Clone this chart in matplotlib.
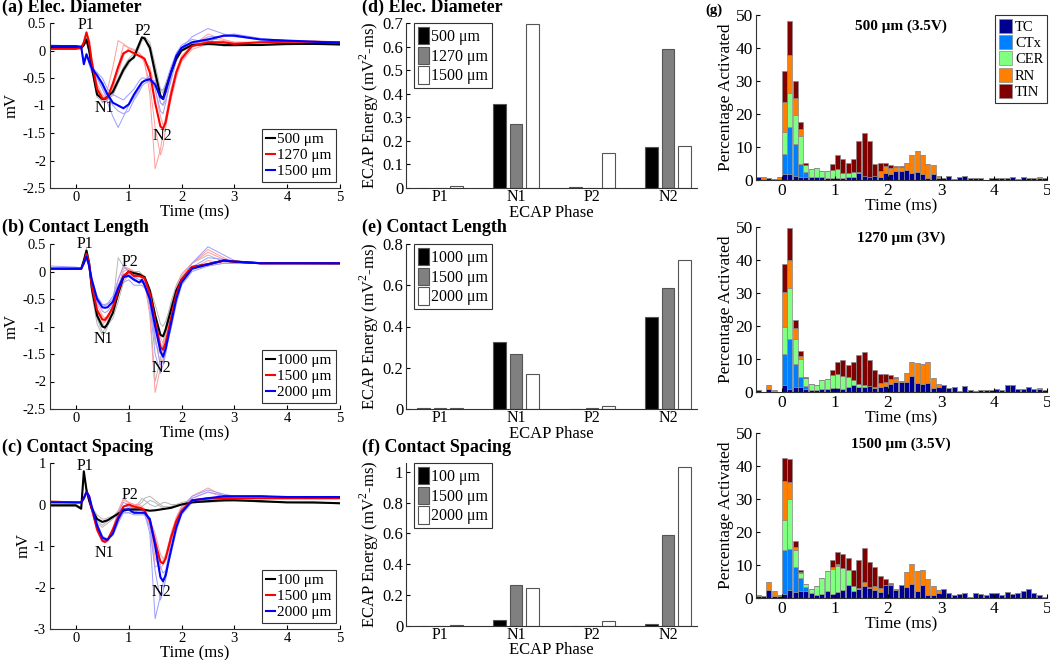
import matplotlib.pyplot as plt
import matplotlib.ticker as mticker
import numpy as np

plt.rcParams['font.family'] = ['Liberation Serif', 'DejaVu Serif']
plt.rcParams['mathtext.fontset'] = 'custom'
plt.rcParams['mathtext.rm'] = 'Liberation Serif'
plt.rcParams['xtick.direction'] = 'in'
plt.rcParams['ytick.direction'] = 'in'
plt.rcParams['xtick.major.size'] = 3
plt.rcParams['ytick.major.size'] = 3
plt.rcParams['axes.linewidth'] = 0.8
plt.rcParams['axes.edgecolor'] = '#333333'

# ---------------- ECAP traces (time in ms, voltage in mV) ----------------
T = [-0.5, 0, 0.1, 0.15, 0.2, 0.25, 0.3, 0.4, 0.5, 0.55, 0.6, 0.7, 0.8, 0.9, 1.0, 1.1, 1.2, 1.25,
     1.3, 1.4, 1.5, 1.6, 1.65, 1.7, 1.8, 1.9, 2.0, 2.2, 2.5, 2.8, 3.0, 3.5, 4.0, 4.5, 5.0]

# (a) electrode diameter
a_black = [0.05, 0.05, 0.04, 0.10, 0.20, 0.00, -0.30, -0.80, -0.88, -0.88, -0.84, -0.75, -0.55, -0.35, -0.20, -0.12, 0.12, 0.24,
           0.22, 0.05, -0.40, -0.82, -0.88, -0.70, -0.40, -0.15, 0.00, 0.10, 0.12, 0.10, 0.10, 0.10, 0.12, 0.12, 0.11]
a_red = [0.03, 0.03, 0.05, 0.15, 0.33, 0.15, -0.20, -0.70, -0.87, -0.88, -0.85, -0.60, -0.30, -0.05, 0.00, -0.05, -0.10, -0.12,
         -0.15, -0.40, -0.95, -1.38, -1.42, -1.30, -0.80, -0.40, -0.15, 0.08, 0.15, 0.15, 0.12, 0.15, 0.16, 0.16, 0.15]
a_blue = [0.08, 0.08, 0.07, -0.25, -0.07, -0.20, -0.32, -0.45, -0.60, -0.70, -0.80, -0.95, -1.00, -1.05, -0.98, -0.80, -0.65, -0.58,
          -0.55, -0.52, -0.62, -0.85, -0.88, -0.75, -0.40, -0.10, 0.05, 0.15, 0.20, 0.27, 0.27, 0.20, 0.18, 0.16, 0.14]
a_gray_thin = [
    [0.04, 0.04, 0.03, 0.12, 0.22, 0.02, -0.35, -0.85, -0.92, -0.90, -0.82, -0.70, -0.50, -0.30, -0.15, -0.05, 0.15, 0.22,
     0.20, 0.00, -0.50, -0.95, -0.98, -0.80, -0.45, -0.15, 0.02, 0.12, 0.15, 0.08, 0.08, 0.10, 0.10, 0.12, 0.10],
    [0.06, 0.06, 0.05, 0.08, 0.15, -0.02, -0.25, -0.70, -0.80, -0.85, -0.88, -0.82, -0.60, -0.40, -0.25, -0.10, 0.10, 0.20,
     0.25, 0.15, -0.25, -0.70, -0.78, -0.62, -0.35, -0.12, 0.02, 0.12, 0.18, 0.12, 0.12, 0.10, 0.14, 0.12, 0.12],
    [0.05, 0.05, 0.04, 0.10, 0.18, 0.00, -0.30, -0.75, -0.95, -0.95, -0.90, -0.80, -0.58, -0.38, -0.18, -0.15, 0.05, 0.18,
     0.20, 0.10, -0.35, -0.80, -0.85, -0.72, -0.42, -0.18, -0.02, 0.08, 0.10, 0.12, 0.10, 0.12, 0.12, 0.12, 0.13]]
a_red_thin = [
    [0.03, 0.03, 0.05, 0.15, 0.30, 0.10, -0.30, -0.80, -0.90, -0.85, -0.70, -0.30, 0.18, 0.12, 0.05, 0.02, -0.05, -0.10,
     -0.20, -0.80, -2.15, -1.80, -1.50, -1.20, -0.70, -0.35, -0.10, 0.10, 0.22, 0.18, 0.15, 0.15, 0.16, 0.16, 0.15],
    [0.03, 0.03, 0.05, 0.15, 0.30, 0.12, -0.20, -0.60, -0.80, -0.85, -0.88, -0.70, -0.30, 0.10, 0.05, 0.00, -0.05, -0.10,
     -0.25, -0.60, -1.40, -1.90, -1.75, -1.40, -0.85, -0.40, -0.12, 0.08, 0.30, 0.20, 0.15, 0.15, 0.15, 0.16, 0.15],
    [0.03, 0.03, 0.05, 0.15, 0.32, 0.15, -0.15, -0.65, -0.85, -0.90, -0.90, -0.65, -0.40, -0.10, 0.05, 0.00, -0.10, -0.15,
     -0.20, -0.30, -0.70, -1.20, -1.35, -1.30, -0.90, -0.50, -0.20, 0.02, 0.12, 0.15, 0.14, 0.15, 0.15, 0.15, 0.15]]
a_blue_thin = [
    [0.10, 0.08, 0.05, -0.20, -0.05, -0.25, -0.40, -0.50, -0.70, -0.80, -0.95, -1.20, -1.40, -1.20, -1.00, -0.85, -0.70, -0.60,
     -0.55, -0.45, -0.70, -1.10, -1.15, -0.95, -0.50, -0.15, 0.05, 0.25, 0.40, 0.30, 0.25, 0.20, 0.18, 0.16, 0.15],
    [0.06, 0.08, 0.07, -0.22, -0.10, -0.15, -0.30, -0.40, -0.50, -0.60, -0.70, -0.80, -0.85, -0.90, -0.80, -0.70, -0.55, -0.50,
     -0.50, -0.55, -0.60, -0.70, -0.72, -0.60, -0.30, -0.05, 0.10, 0.20, 0.15, 0.28, 0.30, 0.22, 0.18, 0.16, 0.14],
    [0.08, 0.08, 0.06, -0.25, -0.05, -0.20, -0.30, -0.50, -0.65, -0.75, -0.85, -1.00, -1.10, -1.15, -1.10, -0.90, -0.75, -0.65,
     -0.60, -0.55, -0.55, -0.95, -1.00, -0.90, -0.55, -0.20, 0.00, 0.10, 0.25, 0.25, 0.28, 0.20, 0.18, 0.16, 0.15]]

# (b) contact length
b_black = [0.05, 0.05, 0.05, 0.20, 0.38, 0.15, -0.30, -0.80, -1.00, -1.02, -0.95, -0.75, -0.40, -0.10, 0.00, -0.03, -0.05, -0.08,
           -0.10, -0.35, -0.80, -1.15, -1.18, -1.05, -0.70, -0.35, -0.15, 0.08, 0.13, 0.20, 0.18, 0.15, 0.15, 0.15, 0.15]
b_red = [0.05, 0.05, 0.05, 0.15, 0.32, 0.15, -0.25, -0.70, -0.87, -0.88, -0.82, -0.65, -0.35, -0.08, 0.00, -0.08, -0.08, -0.10,
         -0.12, -0.40, -0.90, -1.38, -1.42, -1.30, -0.85, -0.42, -0.15, 0.08, 0.13, 0.20, 0.18, 0.15, 0.15, 0.15, 0.15]
b_blue = [0.05, 0.05, 0.05, 0.15, 0.27, 0.10, -0.15, -0.50, -0.65, -0.66, -0.65, -0.55, -0.30, -0.10, -0.08, -0.15, -0.20, -0.15,
          -0.25, -0.50, -1.00, -1.45, -1.55, -1.40, -0.95, -0.50, -0.20, 0.05, 0.13, 0.20, 0.18, 0.15, 0.15, 0.15, 0.15]
b_gray_thin = [
    [0.05, 0.05, 0.05, 0.22, 0.42, 0.15, -0.40, -0.95, -1.15, -1.12, -1.00, -0.60, 0.25, 0.10, 0.00, -0.05, -0.05, -0.08,
     -0.15, -0.50, -1.30, -1.50, -1.35, -1.15, -0.70, -0.30, -0.10, 0.10, 0.15, 0.20, 0.18, 0.15, 0.15, 0.14, 0.13],
    [0.05, 0.05, 0.05, 0.18, 0.35, 0.12, -0.25, -0.75, -0.95, -1.00, -0.98, -0.85, -0.55, -0.20, -0.05, 0.00, 0.00, -0.05,
     -0.10, -0.30, -0.60, -0.95, -1.00, -0.90, -0.60, -0.30, -0.10, 0.05, 0.10, 0.15, 0.15, 0.15, 0.15, 0.15, 0.15],
    [0.05, 0.05, 0.05, 0.20, 0.40, 0.18, -0.30, -0.85, -1.10, -1.05, -0.90, -0.65, -0.30, 0.05, 0.05, 0.00, -0.05, -0.10,
     -0.20, -0.70, -2.00, -1.60, -1.30, -1.00, -0.55, -0.25, -0.05, 0.15, 0.30, 0.18, 0.15, 0.15, 0.15, 0.15, 0.14]]
b_red_thin = [
    [0.05, 0.05, 0.05, 0.15, 0.30, 0.12, -0.30, -0.80, -0.95, -0.92, -0.85, -0.60, -0.15, 0.10, 0.05, 0.00, -0.05, -0.05,
     -0.10, -0.45, -1.20, -1.70, -1.60, -1.40, -0.85, -0.40, -0.10, 0.15, 0.40, 0.25, 0.18, 0.15, 0.15, 0.15, 0.15],
    [0.05, 0.05, 0.05, 0.15, 0.32, 0.15, -0.20, -0.60, -0.80, -0.85, -0.80, -0.70, -0.45, -0.15, -0.05, -0.10, -0.10, -0.12,
     -0.15, -0.35, -0.75, -1.20, -1.30, -1.25, -0.90, -0.50, -0.20, 0.05, 0.20, 0.15, 0.15, 0.15, 0.15, 0.15, 0.15],
    [0.05, 0.05, 0.05, 0.15, 0.30, 0.12, -0.25, -0.70, -0.90, -0.90, -0.85, -0.65, -0.30, 0.00, 0.05, -0.05, -0.05, -0.10,
     -0.20, -0.80, -2.20, -1.75, -1.45, -1.15, -0.70, -0.30, -0.05, 0.15, 0.35, 0.22, 0.18, 0.15, 0.15, 0.15, 0.15]]
b_blue_thin = [
    [0.10, 0.08, 0.05, 0.15, 0.25, 0.08, -0.15, -0.45, -0.60, -0.60, -0.58, -0.45, -0.15, 0.10, 0.00, -0.10, -0.15, -0.15,
     -0.20, -0.60, -1.50, -1.85, -1.70, -1.50, -1.00, -0.50, -0.15, 0.15, 0.45, 0.30, 0.20, 0.15, 0.15, 0.15, 0.15],
    [0.05, 0.05, 0.05, 0.15, 0.27, 0.10, -0.20, -0.55, -0.72, -0.75, -0.72, -0.60, -0.40, -0.20, -0.15, -0.25, -0.25, -0.25,
     -0.30, -0.45, -0.85, -1.30, -1.45, -1.40, -1.05, -0.60, -0.25, 0.00, 0.10, 0.15, 0.15, 0.15, 0.15, 0.15, 0.15],
    [0.05, 0.05, 0.05, 0.15, 0.25, 0.10, -0.10, -0.45, -0.60, -0.62, -0.60, -0.50, -0.25, -0.05, -0.05, -0.12, -0.20, -0.20,
     -0.25, -0.55, -1.20, -1.70, -1.65, -1.45, -0.95, -0.45, -0.15, 0.08, 0.25, 0.22, 0.18, 0.15, 0.15, 0.15, 0.15]]

# (c) contact spacing
c_black = [-0.02, -0.02, -0.10, 0.80, 0.35, 0.10, -0.10, -0.35, -0.42, -0.40, -0.38, -0.30, -0.22, -0.15, -0.12, -0.12, -0.12, -0.12,
           -0.13, -0.15, -0.14, -0.12, -0.11, -0.10, -0.08, -0.04, 0.00, 0.05, 0.08, 0.10, 0.10, 0.08, 0.05, 0.05, 0.03]
c_red = [0.07, 0.05, 0.05, 0.15, 0.30, 0.20, -0.10, -0.60, -0.87, -0.90, -0.85, -0.60, -0.30, -0.05, 0.00, -0.05, -0.08, -0.10,
         -0.15, -0.40, -0.90, -1.38, -1.42, -1.30, -0.80, -0.40, -0.15, 0.10, 0.15, 0.15, 0.15, 0.15, 0.15, 0.15, 0.15]
c_blue = [0.05, 0.05, 0.05, 0.15, 0.30, 0.20, -0.05, -0.50, -0.80, -0.83, -0.85, -0.70, -0.35, -0.12, -0.12, -0.20, -0.20, -0.20,
          -0.20, -0.35, -1.00, -1.75, -1.85, -1.70, -1.10, -0.55, -0.20, 0.10, 0.15, 0.20, 0.20, 0.20, 0.18, 0.18, 0.18]
c_gray_thin = [
    [-0.05, -0.05, -0.12, 0.70, 0.30, 0.05, -0.15, -0.45, -0.55, -0.50, -0.45, -0.35, -0.20, -0.05, 0.00, -0.05, 0.05, 0.15,
     0.10, 0.00, -0.05, 0.00, 0.05, 0.05, 0.00, 0.00, 0.05, 0.10, 0.15, 0.12, 0.10, 0.08, 0.05, 0.03, 0.02],
    [0.00, 0.00, -0.08, 0.75, 0.40, 0.15, -0.05, -0.25, -0.35, -0.35, -0.32, -0.28, -0.25, -0.20, -0.20, -0.18, -0.10, -0.05,
     0.00, 0.10, 0.05, -0.05, -0.08, -0.10, -0.10, -0.05, 0.00, 0.05, 0.05, 0.08, 0.10, 0.08, 0.06, 0.05, 0.04],
    [-0.03, -0.03, -0.10, 0.75, 0.30, 0.08, -0.10, -0.40, -0.50, -0.45, -0.40, -0.30, -0.15, -0.10, -0.10, -0.05, 0.00, 0.05,
     0.15, 0.20, 0.10, 0.00, -0.05, -0.05, -0.05, 0.00, 0.00, 0.05, 0.10, 0.12, 0.12, 0.05, 0.05, 0.04, 0.02]]
c_red_thin = [
    [0.07, 0.05, 0.05, 0.15, 0.30, 0.20, -0.10, -0.65, -0.90, -0.92, -0.90, -0.60, -0.15, 0.15, 0.05, 0.00, 0.00, -0.05,
     -0.10, -0.40, -1.30, -1.55, -1.45, -1.25, -0.70, -0.30, -0.05, 0.20, 0.40, 0.20, 0.15, 0.15, 0.15, 0.15, 0.15],
    [0.07, 0.05, 0.05, 0.15, 0.28, 0.18, -0.10, -0.55, -0.82, -0.88, -0.85, -0.65, -0.40, -0.15, -0.05, -0.10, -0.10, -0.12,
     -0.18, -0.35, -0.70, -1.20, -1.30, -1.25, -0.90, -0.50, -0.20, 0.05, 0.15, 0.12, 0.12, 0.15, 0.15, 0.15, 0.15],
    [0.07, 0.05, 0.05, 0.15, 0.30, 0.20, -0.15, -0.60, -0.88, -0.92, -0.88, -0.55, -0.20, 0.10, 0.05, 0.00, -0.05, -0.08,
     -0.15, -0.50, -1.50, -1.45, -1.35, -1.20, -0.75, -0.35, -0.05, 0.15, 0.30, 0.18, 0.15, 0.15, 0.15, 0.15, 0.15]]
c_blue_thin = [
    [0.05, 0.05, 0.05, 0.15, 0.30, 0.18, -0.10, -0.55, -0.85, -0.88, -0.85, -0.60, -0.20, 0.05, 0.00, -0.10, -0.15, -0.15,
     -0.20, -0.70, -2.75, -2.20, -1.90, -1.60, -0.90, -0.40, -0.10, 0.20, 0.35, 0.25, 0.20, 0.20, 0.18, 0.18, 0.18],
    [0.05, 0.05, 0.05, 0.15, 0.30, 0.20, -0.05, -0.45, -0.75, -0.80, -0.82, -0.75, -0.45, -0.20, -0.20, -0.25, -0.25, -0.25,
     -0.25, -0.35, -0.80, -1.50, -1.65, -1.60, -1.20, -0.65, -0.25, 0.05, 0.12, 0.18, 0.20, 0.20, 0.18, 0.18, 0.18],
    [0.05, 0.05, 0.05, 0.15, 0.30, 0.20, -0.05, -0.50, -0.80, -0.82, -0.85, -0.70, -0.30, -0.05, -0.05, -0.15, -0.20, -0.20,
     -0.25, -0.55, -1.60, -2.30, -2.10, -1.80, -1.10, -0.50, -0.15, 0.15, 0.30, 0.22, 0.20, 0.20, 0.18, 0.18, 0.18]]

a_labels = ['500 μm', '1270 μm', '1500 μm']
b_labels = ['1000 μm', '1500 μm', '2000 μm']
c_labels = ['100 μm', '1500 μm', '2000 μm']

# ---------------- ECAP energy per phase (mV^2-ms) ----------------
phases = ['P1', 'N1', 'P2', 'N2']
d_energy = [[0.001, 0.357, 0.006, 0.172],
            [0.002, 0.271, 0.002, 0.591],
            [0.007, 0.697, 0.149, 0.179]]
e_energy = [[0.006, 0.323, 0.001, 0.444],
            [0.003, 0.267, 0.003, 0.586],
            [0.003, 0.171, 0.013, 0.722]]
f_energy = [[0.000, 0.038, 0.003, 0.015],
            [0.002, 0.269, 0.002, 0.587],
            [0.004, 0.244, 0.030, 1.032]]

# ---------------- activation histograms (% per 0.1 ms bin, -0.5..5 ms) ----------------
cell_types = ['TC', 'CTx', 'CER', 'RN', 'TIN']
TC_500 = [0.8, 0.3, 0.5, 0.3, 0.2, 1.7, 1.7, 1.3, 1.0, 1.0, 1.0, 0.8, 0.8, 0.5, 0.5, 0.7, 0.5, 1.0, 1.0, 2.0,
          1.2, 1.0, 1.2, 1.0, 2.0, 1.7, 2.7, 2.8, 3.0, 2.2, 2.3, 1.8, 0.7, 1.8, 0.7, 0.5, 1.3, 0.2, 1.0, 1.2,
          0.5, 0.5, 0.5, 0.0, 0.5, 0.7, 0.7, 0.7, 0.8, 0.3, 0.8, 0.5, 0.5, 0.6, 0.5]
CTx_500 = [0, 0, 0, 0, 0, 6.1, 14.5, 9.7, 4.0, 1.5, 0, 0, 0, 0, 0, 0, 0, 0, 0, 0,
           0, 0, 0, 0, 0, 0, 0, 0, 0, 0, 0, 0, 0, 0, 0, 0, 0, 0, 0, 0,
           0, 0, 0, 0, 0, 0, 0, 0, 0, 0, 0, 0, 0, 0, 0]
CER_500 = [0, 0, 0, 0, 0, 6.7, 10.1, 8.6, 8.3, 2.0, 2.3, 2.9, 2.0, 2.3, 2.5, 2.5, 1.5, 1.2, 1.3, 0.3,
           0.1, 0, 0, 0, 0, 0, 0, 0, 0, 0, 0, 0, 0, 0, 0, 0, 0, 0, 0, 0,
           0, 0, 0, 0, 0, 0, 0, 0, 0, 0, 0, 0, 0, 0, 0]
RN_500 = [0, 0.5, 0, 0, 0.6, 9.0, 11.5, 5.4, 2.2, 0.1, 0, 0, 0, 0, 0, 0, 0, 0, 0, 0,
          0, 0, 0, 1.8, 2.3, 1.9, 1.3, 1.2, 2.3, 5.3, 6.4, 5.9, 4.3, 2.7, 0.5, 0, 0, 0, 0, 0,
          0, 0, 0, 0, 0, 0, 0, 0, 0.2, 0, 0, 0, 0, 0.3, 0]
TIN_500 = [0, 0, 0, 0, 0, 9.5, 10.4, 5.0, 2.2, 0.7, 0, 0, 0, 0, 1.8, 4.5, 4.5, 3.0, 4.0, 9.4,
           12.9, 10.9, 3.8, 2.4, 1.0, 1.0, 0.2, 0.1, 0, 0, 0, 0, 0, 0, 0, 0, 0, 0, 0, 0,
           0, 0, 0, 0, 0, 0, 0, 0, 0, 0, 0, 0, 0, 0, 0]

TC_1270 = [0.6, 0, 1.0, 0, 0, 2.0, 1.0, 1.5, 1.5, 1.0, 0.6, 0.7, 1.0, 1.0, 1.2, 1.3, 1.0, 1.5, 2.0, 1.5,
           1.5, 1.7, 1.2, 1.5, 1.9, 2.3, 3.0, 3.0, 3.0, 5.0, 2.6, 2.3, 2.8, 1.2, 1.5, 2.0, 1.2, 1.6, 0.3, 1.9,
           0.5, 0.4, 0.6, 0.6, 0.5, 1.0, 0.6, 2.0, 2.0, 0.8, 0.8, 1.6, 1.0, 0.8, 0.5]
CTx_1270 = [0, 0, 0, 0, 0, 9.5, 15.0, 7.0, 3.1, 0.8, 0, 0, 0, 0, 0, 0, 0, 0, 0, 0,
            0, 0, 0, 0, 0, 0, 0, 0, 0, 0, 0, 0, 0, 0, 0, 0, 0, 0, 0, 0,
            0, 0, 0, 0, 0, 0, 0, 0, 0, 0, 0, 0, 0, 0, 0]
CER_1270 = [0, 0, 0, 0, 0, 8.3, 15.5, 7.7, 5.4, 2.3, 1.8, 1.5, 2.7, 3.0, 4.1, 4.2, 3.7, 3.0, 1.5, 1.0,
            0.5, 0, 0, 0, 0, 0, 0, 0, 0, 0, 0, 0, 0, 0, 0, 0, 0, 0, 0, 0,
            0, 0, 0, 0, 0, 0, 0, 0, 0, 0, 0, 0, 0, 0, 0]
RN_1270 = [0, 0, 1.0, 0.7, 0, 10.4, 8.5, 3.1, 1.0, 0, 0, 0, 0, 0, 0, 0, 0, 0, 0, 0,
           0, 0, 0.3, 1.3, 1.1, 1.7, 1.2, 0.2, 2.8, 4.2, 6.1, 6.2, 6.2, 3.1, 0.8, 0, 0, 0, 0, 0,
           0, 0, 0, 0, 0, 0, 0, 0, 0, 0, 0, 0, 0, 0.4, 0]
TIN_1270 = [0, 0, 0, 0, 0, 8.6, 9.7, 2.6, 1.3, 0.5, 0, 0, 0, 0, 1.5, 3.7, 5.1, 3.7, 5.7, 8.7,
            10.0, 8.1, 5.3, 2.7, 2.5, 1.3, 0.3, 0, 0, 0, 0, 0, 0, 0, 0, 0, 0, 0, 0, 0,
            0, 0, 0, 0, 0, 0, 0, 0, 0, 0, 0, 0, 0, 0, 0]

TC_1500 = [0.5, 0.6, 2.5, 0.7, 0.5, 1.3, 2.3, 1.8, 2.0, 2.2, 1.6, 1.0, 1.2, 2.0, 1.2, 1.8, 2.5, 3.8, 2.0, 2.8,
           3.5, 3.0, 2.5, 1.8, 3.8, 3.8, 2.3, 3.8, 3.4, 4.3, 2.0, 3.8, 0.8, 1.0, 1.6, 2.7, 1.5, 1.0, 1.2, 1.6,
           0.3, 1.6, 1.2, 0.8, 1.5, 1.4, 1.0, 1.7, 1.1, 1.6, 2.0, 2.6, 1.6, 0.8, 0.3]
CTx_1500 = [0, 0, 0, 0, 0, 13.2, 12.5, 7.5, 4.0, 1.0, 0, 0, 0, 0, 0, 0, 0, 0, 0, 0,
            0, 0, 0, 0, 0, 0, 0, 0, 0, 0, 0, 0, 0, 0, 0, 0, 0, 0, 0, 0,
            0, 0, 0, 0, 0, 0, 0, 0, 0, 0, 0, 0, 0, 0, 0]
CER_1500 = [0, 0, 0, 0, 0, 9.0, 15.1, 5.2, 1.7, 1.0, 1.0, 2.6, 4.8, 6.2, 7.6, 7.8, 6.7, 4.7, 1.5, 0.2,
            0, 0, 0, 0, 0, 0, 0, 0, 0, 0, 0, 0, 0, 0, 0, 0, 0, 0, 0, 0,
            0, 0, 0, 0, 0, 0, 0, 0, 0, 0, 0, 0, 0, 0, 0]
RN_1500 = [0.5, 0, 2.3, 1.5, 0.5, 12.0, 5.2, 1.0, 0.3, 0, 0.2, 0, 0, 0, 0.5, 0.6, 0, 0, 0, 0,
           1.5, 0.3, 1.1, 1.2, 0, 0.4, 0.3, 0, 4.4, 6.0, 6.2, 4.6, 5.1, 2.5, 0.7, 0, 0, 0, 0, 0,
           0, 0, 0, 0, 0, 0, 0, 0, 0, 0, 0, 0, 0, 0, 0]
TIN_1500 = [0, 0, 0, 0, 0, 6.8, 6.9, 1.9, 0.5, 0, 0, 0, 0, 0, 2.2, 3.8, 4.1, 3.7, 5.0, 8.4,
            10.3, 7.7, 5.9, 3.7, 2.0, 0.4, 0, 0, 0, 0, 0, 0, 0, 0, 0, 0, 0, 0, 0, 0,
            0, 0, 0, 0, 0, 0, 0, 0, 0, 0, 0, 0, 0, 0, 0]

hist_titles = ['500 μm (3.5V)', '1270 μm (3V)', '1500 μm (3.5V)']
cell_colors = ['#000090', '#0080FF', '#80FF80', '#FF8000', '#800000']

W, H = 1050, 660
fig = plt.figure(figsize=(W / 100, H / 100), dpi=100)


def px_rect(left, top, right, bottom):
    return [left / W, 1 - bottom / H, (right - left) / W, (bottom - top) / H]


def fmt(v, pos):
    return '%g' % v


def trace_panel(rect, means, grays, reds, blues, labels, ylim, yticks, ann):
    ax = fig.add_axes(rect)
    for col, group in zip(['#b8b8b8', '#ff9c9c', '#9c9cff'], [grays, reds, blues]):
        for tr in group:
            ax.plot(T, tr, color=col, lw=0.7)
    for col, m, lab in zip(['black', 'red', 'blue'], means, labels):
        ax.plot(T, m, color=col, lw=1.5, label=lab)
    for name, (x, y) in ann.items():
        ax.text(x, y, name, ha='center', va='center', fontsize=11.5)
    ax.set_xlim(-0.5, 5)
    ax.set_ylim(*ylim)
    ax.set_yticks(yticks)
    ax.set_xticks([0, 1, 2, 3, 4, 5])
    ax.yaxis.set_major_formatter(mticker.FuncFormatter(fmt))
    ax.tick_params(labelsize=10.5, pad=2.5)
    ax.spines['top'].set_visible(False)
    ax.spines['right'].set_visible(False)
    ax.set_xlabel('Time (ms)', fontsize=12, labelpad=0)
    ax.set_ylabel('mV', fontsize=12, labelpad=2)
    leg = ax.legend(loc='lower right', bbox_to_anchor=(0.985, 0.035), borderaxespad=0, fontsize=11,
                    handlelength=0.6, handletextpad=0.15, borderpad=0.25, labelspacing=0.15,
                    fancybox=False, edgecolor='#333333', framealpha=1)
    leg.get_frame().set_linewidth(0.8)
    return ax


trace_panel(px_rect(49.5, 23, 340, 188), [a_black, a_red, a_blue], a_gray_thin, a_red_thin, a_blue_thin,
            a_labels, (-2.5, 0.5), [-2.5, -2, -1.5, -1, -0.5, 0, 0.5],
            {'P1': (0.19, 0.46), 'N1': (0.54, -1.05), 'P2': (1.27, 0.35), 'N2': (1.63, -1.55)})
trace_panel(px_rect(49.5, 244, 340, 409), [b_black, b_red, b_blue], b_gray_thin, b_red_thin, b_blue_thin,
            b_labels, (-2.5, 0.5), [-2.5, -2, -1.5, -1, -0.5, 0, 0.5],
            {'P1': (0.17, 0.50), 'N1': (0.52, -1.23), 'P2': (1.02, 0.18), 'N2': (1.62, -1.75)})
trace_panel(px_rect(49.5, 463, 340, 629), [c_black, c_red, c_blue], c_gray_thin, c_red_thin, c_blue_thin,
            c_labels, (-3, 1), [-3, -2, -1, 0, 1],
            {'P1': (0.17, 0.93), 'N1': (0.54, -1.18), 'P2': (1.02, 0.23), 'N2': (1.62, -2.1)})


def energy_panel(rect, energy, labels, ylim, yticks, xpad=0):
    ax = fig.add_axes(rect)
    x = np.arange(1, len(phases) + 1)
    for i, (vals, col) in enumerate(zip(energy, ['black', '#808080', 'white'])):
        ax.bar(x + (i - 1) * 0.217, vals, width=0.165, color=col, edgecolor='#555555', linewidth=0.8,
               label=labels[i])
    ax.set_xlim(0.553, 4.38)
    ax.set_ylim(*ylim)
    ax.set_yticks(yticks)
    ax.set_xticks(x)
    ax.set_xticklabels(phases)
    ax.yaxis.set_major_formatter(mticker.FuncFormatter(fmt))
    ax.tick_params(axis='y', labelsize=12, pad=2)
    ax.tick_params(axis='x', labelsize=11.5, length=0, pad=1)
    ax.spines['top'].set_visible(False)
    ax.spines['right'].set_visible(False)
    ax.set_xlabel('ECAP Phase', fontsize=12, labelpad=xpad)
    ax.set_ylabel('ECAP Energy (mV$^2$-ms)', fontsize=12, labelpad=1)
    leg = ax.legend(loc='upper left', bbox_to_anchor=(0.028, 1.0), borderaxespad=0, fontsize=11.5,
                    handlelength=0.7, handleheight=1.3, handletextpad=0.1, borderpad=0.25, labelspacing=0.1,
                    fancybox=False, edgecolor='#333333', framealpha=1)
    leg.get_frame().set_linewidth(0.8)
    return ax


energy_panel(px_rect(406, 23, 697, 188), d_energy, a_labels, (0, 0.7), [0, 0.1, 0.2, 0.3, 0.4, 0.5, 0.6, 0.7])
energy_panel(px_rect(406, 244, 697, 409), e_energy, b_labels, (0, 0.8), [0, 0.2, 0.4, 0.6, 0.8])
energy_panel(px_rect(406, 463, 697, 626), f_energy, c_labels, (0, 1.057), [0, 0.2, 0.4, 0.6, 0.8, 1], xpad=-1)

bin_centers = np.arange(-0.45, 5.0, 0.1)
hist_data = [[TC_500, CTx_500, CER_500, RN_500, TIN_500],
             [TC_1270, CTx_1270, CER_1270, RN_1270, TIN_1270],
             [TC_1500, CTx_1500, CER_1500, RN_1500, TIN_1500]]
hist_rects = [px_rect(755.5, 15, 1047, 180), px_rect(755.5, 227, 1047, 392), px_rect(755.5, 433, 1047, 598)]

for k, (rect, comps, title) in enumerate(zip(hist_rects, hist_data, hist_titles)):
    ax = fig.add_axes(rect)
    bottom = np.zeros(len(bin_centers))
    for vals, col, name in zip(comps, cell_colors, cell_types):
        vals = np.array(vals, dtype=float)
        ax.bar(bin_centers, vals, width=0.095, bottom=bottom, color=col, edgecolor='#8a8a8a',
               linewidth=0.5, label=name)
        bottom += vals
    ax.set_xlim(-0.5, 5)
    ax.set_ylim(0, 50)
    ax.set_yticks([0, 10, 20, 30, 40, 50])
    ax.set_xticks([0, 1, 2, 3, 4, 5])
    ax.tick_params(labelsize=12.5, pad=2)
    ax.spines['top'].set_visible(False)
    ax.spines['right'].set_visible(False)
    ax.set_xlabel('Time (ms)', fontsize=12.5, labelpad=0)
    ax.set_ylabel('Percentage Activated', fontsize=12.5, labelpad=1)
    ax.text(0.5, 0.93, title, transform=ax.transAxes, ha='center', va='center', fontsize=11,
            fontweight='bold')
    if k == 0:
        leg = ax.legend(loc='upper right', bbox_to_anchor=(1.0, 1.0), borderaxespad=0, fontsize=10.5,
                        handlelength=0.9, handleheight=1.1, handletextpad=0.2, borderpad=0.25,
                        labelspacing=0.1, fancybox=False, edgecolor='#333333', framealpha=1)
        leg.get_frame().set_linewidth(0.8)

# panel titles
for txt, x, y in [('(a) Elec. Diameter', 2, 7), ('(b) Contact Length', 2, 227), ('(c) Contact Spacing', 2, 447),
                  ('(d) Elec. Diameter', 362, 7), ('(e) Contact Length', 362, 227),
                  ('(f) Contact Spacing', 362, 447)]:
    fig.text(x / W, 1 - y / H, txt, fontsize=13, fontweight='bold', ha='left', va='center')
fig.text(705 / W, 1 - 10 / H, '(g)', fontsize=10.5, fontweight='bold', ha='left', va='center')

fig.savefig('out.png', dpi=100, facecolor='white')
